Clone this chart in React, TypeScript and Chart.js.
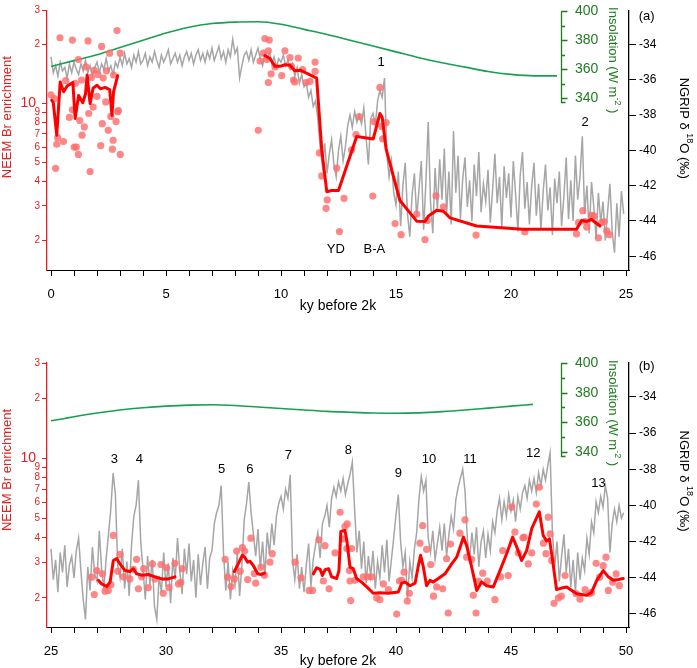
import React, { useEffect, useRef } from 'react';
import { Chart, registerables } from 'chart.js';
Chart.register(...registerables);

const FONT = "'Liberation Sans', Arial, sans-serif";

// ---------- Ticks ----------
const X_TICKS_A = [0, 1, 2, 3, 4, 5, 6, 7, 8, 9, 10, 11, 12, 13, 14, 15, 16, 17, 18, 19, 20, 21, 22, 23, 24, 25];
const X_LABELS_A = [0, 5, 10, 15, 20, 25];
const X_TICKS_B = [25, 26, 27, 28, 29, 30, 31, 32, 33, 34, 35, 36, 37, 38, 39, 40, 41, 42, 43, 44, 45, 46, 47, 48, 49, 50];
const X_LABELS_B = [25, 30, 35, 40, 45, 50];
const BR_TICKS = [2, 3, 4, 5, 6, 7, 8, 9, 10, 20, 30];
const BR_TICK_LABELS = ['2', '3', '4', '5', '6', '7', '8', '9', '10 ', '2', '3'];
const D18O_TICKS = [-46, -44, -42, -40, -38, -36, -34];
const INSOL_TICKS = [340, 360, 380, 400];
const INSOL_MINOR = [350, 370, 390];

// ---------- NGRIP d18O (per mil), 0.1 ky steps ----------
const NGRIP_STEP = 0.1;
const NGRIP_A_START = 0;
const NGRIP_A = [
  -34.7, -35.6, -35.2, -35.8, -35.0, -35.5, -35.3, -35.9, -35.1, -35.6,
  -35.0, -35.4, -35.7, -35.1, -35.5, -34.9, -35.6, -35.2, -35.8, -35.3,
  -35.0, -35.6, -35.1, -35.4, -34.8, -35.5, -35.2, -35.7, -35.0, -35.3,
  -34.7, -35.2, -34.5, -35.1, -34.8, -35.3, -34.6, -35.0, -34.4, -35.1,
  -34.9, -34.5, -35.2, -34.7, -35.0, -34.4, -34.9, -35.3, -34.6, -35.0,
  -34.7, -34.3, -35.1, -34.8, -34.5, -35.0, -34.6, -35.2, -34.7, -34.4,
  -34.9, -34.5, -35.1, -34.6, -34.3, -34.9, -34.5, -35.0, -34.4, -34.8,
  -34.2, -34.9, -34.5, -34.1, -34.8, -34.4, -35.0, -34.3, -34.7, -33.7,
  -34.5, -34.2, -35.9, -35.2, -34.6,
  -34.4, -34.9, -34.3, -35.0, -34.6, -34.2, -34.8, -35.2, -34.5, -34.9,
  -34.4, -35.1, -34.7, -35.3, -34.8, -35.0, -34.6, -35.2, -34.9, -35.4,
  -35.1, -35.8, -35.3, -36.2, -35.7, -36.4,
  -36.2, -37.0, -36.6, -37.5, -37.2, -38.2,
  -39.8, -40.9, -39.6, -41.3, -40.2, -39.4, -40.8, -41.5, -40.0, -39.2, -40.6, -39.8,
  -38.6, -38.0, -38.7, -37.8, -38.4, -38.0,
  -38.5, -37.6, -39.3, -40.8, -38.2, -37.9, -38.6,
  -37.2, -36.6, -37.0, -35.9,
  -40.2, -41.5, -40.6, -42.4,
  -43.1, -41.2, -44.3, -42.0, -40.7, -43.6, -44.9, -42.5, -41.3, -43.8,
  -42.2, -40.6, -44.5, -41.8, -38.4, -42.9, -44.7, -41.0, -43.4, -40.5,
  -42.8, -39.9, -43.6, -41.2, -44.2, -38.9, -42.4, -40.3, -43.9, -41.6,
  -40.4, -43.2, -41.7, -44.0, -40.8, -42.6, -40.1, -43.5, -41.9, -42.9,
  -41.1, -44.1, -42.2, -40.2, -43.0, -41.5, -44.4, -40.9, -42.7, -41.3,
  -43.8, -40.6, -42.5, -44.6, -41.4, -40.1, -43.3, -41.8, -44.2, -42.0,
  -40.7, -43.7, -41.9, -44.5, -42.3, -40.8, -43.4, -42.1, -44.8, -41.6,
  -43.0, -41.2, -44.3, -42.6, -40.4, -43.9, -41.7, -44.0, -40.3, -42.8,
  -41.5, -39.2, -43.6, -42.0, -44.7, -41.8, -43.2, -45.0, -42.4, -44.1,
  -42.9, -45.1, -43.5, -41.9, -44.6, -45.8, -43.0, -44.9, -42.3, -43.6,
];
const NGRIP_B_START = 25;
const NGRIP_B = [
  -42.4, -44.1, -43.0, -44.8, -42.6, -43.7, -42.2, -44.5, -43.3, -42.8,
  -44.0, -42.5, -41.8, -43.6, -45.2, -46.3, -43.4, -44.7, -42.3, -43.8,
  -44.2, -41.4, -43.5, -44.6, -42.9, -41.6, -40.2, -38.2, -39.4, -43.3,
  -44.0, -42.4, -44.6, -43.1, -45.0, -42.2, -40.6, -40.0, -38.6, -42.0,
  -43.5, -45.2, -42.8, -44.4, -43.0, -45.6, -46.3, -43.9, -44.8, -42.6,
  -44.5, -43.2, -45.4, -42.9, -44.1, -41.8, -43.6, -44.9, -42.4, -43.8,
  -42.1, -44.2, -43.0, -45.1, -42.7, -44.4, -43.2, -42.3, -44.6, -42.9,
  -42.5, -41.0, -40.4, -40.0, -38.9, -42.6, -44.7, -43.1, -45.2, -43.6,
  -44.4, -42.6, -45.0, -43.3, -40.8, -39.9, -38.7, -40.4, -41.6, -42.8,
  -41.3, -43.5, -42.0, -43.9, -41.5, -42.7, -41.0, -42.2, -40.6, -39.9,
  -39.5, -40.2, -39.1, -39.6, -38.3, -43.0, -44.1, -42.7, -44.6, -43.4,
  -44.8, -43.3, -42.1, -44.5, -43.0, -42.2, -41.5, -42.9, -41.0, -40.6,
  -40.0, -41.2, -39.6, -39.0, -39.5, -38.7, -39.2, -38.5, -39.4, -38.8,
  -38.3, -37.6, -40.2, -42.6, -41.4, -43.5, -42.0, -44.3, -42.8, -43.9,
  -42.5, -44.6, -43.1, -44.0, -42.2, -43.7, -41.9, -44.2, -43.0, -41.8,
  -40.5, -39.4, -42.0, -43.4, -42.6, -45.2, -43.1, -44.0, -42.4, -41.5,
  -39.6, -38.4, -39.2, -38.6, -41.8, -42.6, -41.4, -43.0, -42.1, -41.2,
  -42.5, -41.0, -42.8, -41.6, -40.6, -41.3, -39.7, -39.0, -38.5, -38.0,
  -39.2, -41.8, -43.0, -41.5, -42.7, -41.2, -43.4, -42.0, -41.4, -42.9,
  -41.6, -42.5, -40.9, -41.5, -40.3, -39.6, -40.8, -39.8, -40.6, -39.4,
  -40.3, -39.7, -40.9, -39.5, -40.2, -39.3, -38.9, -39.6, -38.6, -39.2,
  -38.5, -39.3, -38.2, -38.9, -38.0, -38.6, -37.8, -37.1, -41.5, -43.4,
  -42.0, -44.2, -42.8, -41.6, -43.7, -42.4, -44.5, -43.0, -44.8, -42.6,
  -44.1, -42.9, -43.6, -41.8, -42.7, -40.9, -41.5, -39.8, -40.4, -39.5,
  -40.1, -38.9, -39.6, -42.6, -41.0, -40.2, -40.9, -40.0, -40.7, -40.4,
];

// ---------- Insolation (W m-2) [ky, value] ----------
const INSOL_A = [
  [0, 362], [1, 366], [2, 370], [3, 375], [4, 380], [5, 385], [6, 389], [7, 391.5],
  [8, 392.5], [9, 392.7], [10, 391], [11, 387.5], [12, 384], [13, 380], [14, 376],
  [15, 372], [16, 368], [17, 364.5], [18, 361.5], [19, 358.5], [20, 356.5], [21, 355.5], [22, 355.5],
];
const INSOL_B = [
  [25, 361], [26, 363.8], [27, 366.3], [28, 368.3], [29, 369.8], [30, 370.9], [31, 371.6],
  [32, 371.8], [33, 371.3], [34, 370.3], [35, 369.3], [36, 368.3], [37, 367.4], [38, 366.8],
  [39, 366.3], [40, 366.1], [41, 366.4], [42, 367.2], [43, 368.3], [44, 369.6], [45, 370.9], [45.95, 372.1],
];

// ---------- NEEM Br enrichment: smoothed lines [ky, ratio] ----------
const BR_LINE_A1 = [
  [0.03, 10.4], [0.1, 10.1], [0.25, 6.9], [0.4, 12.9], [0.55, 11.5], [0.7, 12.3], [0.95, 12.8],
  [1.05, 8.4], [1.2, 11.0], [1.38, 10.1], [1.5, 11.2], [1.57, 14.0], [1.7, 10.0], [1.83, 12.0],
  [2.0, 12.4], [2.15, 11.9], [2.35, 12.1], [2.55, 11.8], [2.65, 8.7], [2.72, 11.5], [2.9, 13.9],
];
const BR_LINE_A2 = [
  [9.3, 17.6], [9.52, 17.0], [9.74, 15.5], [9.96, 15.5], [10.17, 15.8], [10.39, 15.7], [10.6, 14.7],
  [10.85, 14.8], [11.48, 13.6], [11.55, 13.5], [11.77, 5.85], [11.99, 3.55], [12.2, 3.6], [12.5, 3.6],
  [13.29, 6.8], [14.01, 6.6], [14.3, 8.9], [14.4, 8.5], [14.57, 5.85], [15.17, 3.2], [15.9, 2.51],
  [16.26, 2.5], [16.4, 2.66], [16.77, 2.85], [17.06, 2.82], [17.35, 2.61], [18.5, 2.37], [20.5, 2.28],
  [22.85, 2.28], [23.07, 2.53], [23.3, 2.5], [23.5, 2.56], [23.87, 2.37],
];
const BR_LINE_B1 = [
  [27.06, 2.45], [27.2, 2.35], [27.42, 2.28], [27.57, 2.4], [27.71, 3.08], [27.86, 3.15], [28.0, 2.96],
  [28.22, 2.74], [28.43, 2.71], [28.58, 2.8], [28.72, 2.64], [28.94, 2.6], [29.23, 2.62], [29.52, 2.55],
  [29.81, 2.49], [30.1, 2.49], [30.39, 2.55],
];
const BR_LINE_B2 = [
  [32.97, 2.71], [33.14, 2.96], [33.32, 3.27], [33.42, 3.2], [33.55, 3.02], [33.65, 3.05], [33.8, 2.9],
  [33.99, 2.64], [34.13, 2.62], [34.28, 2.66],
];
const BR_LINE_B3 = [
  [36.41, 2.64], [36.55, 2.83], [36.7, 2.78], [36.8, 2.59], [36.92, 2.77], [37.07, 2.8], [37.2, 2.55],
  [37.42, 2.5], [37.52, 2.74], [37.6, 4.3], [37.78, 4.35], [37.86, 3.9], [38.0, 2.85], [38.14, 2.8],
  [38.29, 2.5], [38.5, 2.4], [38.73, 2.27], [39.01, 2.11], [39.3, 2.12], [39.67, 2.11], [40.1, 2.14],
  [40.25, 2.37], [40.4, 2.4], [40.61, 2.3], [40.83, 2.37], [40.97, 2.9], [41.07, 3.27], [41.19, 2.85],
  [41.33, 2.3], [41.48, 2.45], [41.62, 2.4], [41.84, 2.5], [42.13, 2.64], [42.42, 2.96], [42.64, 3.2],
  [42.81, 3.65], [42.93, 4.03], [43.07, 3.65], [43.29, 2.85], [43.51, 2.18], [43.72, 2.4], [43.94, 2.3],
  [44.23, 2.27], [44.52, 2.74], [44.81, 3.33], [45.07, 4.03], [45.25, 3.6], [45.46, 3.08], [45.68, 3.45],
  [45.9, 4.44], [46.23, 5.4], [46.4, 4.11], [46.55, 3.85], [46.67, 3.95], [46.81, 3.08], [46.98, 2.2],
  [47.2, 2.24], [47.42, 2.27], [47.85, 2.1], [48.29, 2.06], [48.5, 2.13], [48.73, 2.45], [49.01, 2.74],
  [49.23, 2.55], [49.45, 2.45], [49.66, 2.47], [49.88, 2.5],
];

// ---------- NEEM Br enrichment: samples [ky, ratio] ----------
const BR_POINTS_A = [
  [0.0, 11.1], [0.14, 10.6], [0.2, 4.67], [0.25, 6.2], [0.29, 6.7], [0.39, 21.7], [0.54, 6.4], [0.64, 13.1],
  [0.8, 8.5], [0.93, 21.1], [0.93, 9.3], [1.01, 6.0], [1.06, 12.7], [1.1, 6.0], [1.19, 5.5], [1.19, 16.8],
  [1.25, 8.2], [1.33, 13.2], [1.35, 6.9], [1.45, 7.6], [1.52, 15.4], [1.61, 20.9], [1.64, 8.9], [1.7, 4.5],
  [1.76, 13.6], [1.83, 9.6], [1.88, 14.8], [2.0, 10.9], [2.04, 14.1], [2.16, 6.1], [2.2, 19.6], [2.23, 7.9],
  [2.27, 13.5], [2.38, 10.2], [2.41, 14.7], [2.49, 7.3], [2.55, 18.1], [2.6, 8.6], [2.67, 5.85], [2.7, 6.5],
  [2.72, 14.0], [2.83, 8.1], [2.87, 23.6], [2.9, 9.1], [2.93, 9.2], [3.01, 18.1], [3.01, 5.5],
  [9.01, 7.3], [9.09, 16.5], [9.23, 18.1], [9.3, 21.5], [9.38, 16.8], [9.45, 18.6], [9.49, 21.1], [9.45, 12.8],
  [9.57, 14.2], [9.74, 15.4], [10.03, 13.9], [10.17, 18.6], [10.39, 17.2], [10.46, 15.5], [10.54, 13.2],
  [10.6, 12.9], [10.75, 17.1], [10.94, 14.9], [11.09, 12.8], [11.26, 13.0], [11.48, 16.3], [11.48, 14.6],
  [11.67, 5.6], [11.77, 4.27], [11.96, 2.92], [12.01, 3.22], [12.42, 4.69], [12.54, 2.22], [12.74, 3.28],
  [13.07, 5.8], [13.26, 6.94], [13.4, 8.58], [13.99, 3.37], [14.04, 8.1], [14.3, 12.1], [14.38, 7.65],
  [14.42, 6.6], [14.57, 8.0], [14.96, 2.44], [15.22, 2.14], [15.9, 2.73], [16.26, 2.02], [16.36, 2.53],
  [16.74, 3.38], [17.06, 2.97], [18.48, 2.13], [20.6, 2.21], [22.85, 2.16], [22.93, 2.47], [23.12, 2.84],
  [23.22, 2.5], [23.29, 2.34], [23.5, 2.69], [23.6, 2.67], [23.8, 2.06], [23.94, 2.47], [24.05, 2.5],
  [24.16, 2.24], [24.27, 2.14],
];
const BR_POINTS_B = [
  [26.77, 2.54], [26.88, 2.08], [26.99, 2.74], [27.23, 2.64], [27.35, 2.16], [27.49, 2.18], [27.6, 2.33],
  [27.71, 4.11], [27.9, 2.72], [28.0, 3.3], [28.15, 2.55], [28.43, 2.49], [28.58, 2.78], [28.72, 3.12],
  [28.8, 2.22], [28.94, 2.55], [29.03, 2.8], [29.23, 2.25], [29.41, 2.96], [29.52, 2.49], [29.78, 2.94],
  [29.88, 2.11], [30.03, 2.83], [30.13, 2.25], [30.39, 2.98], [30.54, 2.35], [30.64, 2.39], [30.71, 2.8],
  [32.57, 3.12], [32.68, 2.54], [32.83, 2.28], [32.97, 2.49], [33.07, 3.43], [33.23, 2.72], [33.32, 3.57],
  [33.42, 3.43], [33.55, 2.47], [33.69, 3.98], [33.84, 2.65], [33.9, 2.37], [34.13, 2.85], [34.28, 2.6],
  [34.52, 3.02], [34.62, 3.33],
  [35.61, 3.02], [35.87, 2.52], [36.22, 2.18], [36.37, 2.18], [36.65, 3.91], [36.84, 2.43], [36.91, 3.65],
  [37.09, 2.22], [37.35, 3.36], [37.57, 5.37], [37.71, 3.95], [37.78, 4.55], [37.88, 4.69], [37.86, 3.53],
  [38.07, 3.53], [38.0, 2.43], [38.03, 1.94], [37.97, 2.74], [38.22, 2.45], [38.58, 2.55], [38.77, 2.55],
  [38.94, 2.55], [39.16, 2.0], [39.3, 1.96], [39.45, 2.35], [39.67, 2.2], [40.03, 1.66], [40.15, 2.43],
  [40.25, 2.45], [40.35, 2.69], [40.49, 1.93], [40.58, 2.11], [41.04, 3.76], [41.16, 4.6], [41.33, 3.5],
  [41.51, 2.94], [41.63, 2.04], [41.77, 2.27], [42.03, 2.22], [42.2, 3.14], [42.27, 1.68], [42.37, 3.72],
  [42.78, 4.22], [43.0, 4.92], [43.07, 3.2], [43.29, 3.12], [43.36, 2.06], [43.48, 1.68], [43.58, 2.43],
  [43.77, 2.66], [43.97, 2.43], [44.3, 1.96], [44.55, 2.55], [44.64, 3.45], [44.88, 2.59], [45.03, 5.7],
  [45.17, 4.27], [45.32, 3.36], [45.52, 4.0], [45.57, 4.03], [45.75, 2.96], [45.9, 3.36], [46.1, 5.9],
  [46.23, 7.16], [46.41, 3.76], [46.52, 3.33], [46.62, 5.07], [46.7, 4.18], [46.77, 3.08], [46.87, 1.88],
  [47.06, 2.0], [47.19, 2.04], [47.35, 2.59], [47.83, 2.1], [48.0, 1.97], [48.22, 2.2], [48.41, 2.1],
  [48.5, 2.13], [48.7, 2.98], [48.85, 2.54], [49.01, 2.9], [49.13, 3.2], [49.23, 2.18], [49.42, 2.4],
  [49.57, 2.64], [49.71, 2.31],
];

// ---------- Annotations [text, ky, d18O] ----------
const ANNOT_A = [
  ['1', 14.35, -35.0], ['2', 23.22, -38.44], ['YD', 12.38, -45.63], ['B-A', 14.06, -45.63], ['(a)', 25.9, -32.43],
];
const ANNOT_B = [
  ['3', 27.75, -37.48], ['4', 28.84, -37.48], ['5', 32.42, -38.0], ['6', 33.65, -38.0], ['7', 35.32, -37.25],
  ['8', 37.93, -36.93], ['9', 40.1, -38.22], ['10', 41.43, -37.45], ['11', 43.22, -37.45], ['12', 45.97, -37.11],
  ['13', 48.8, -38.77], ['(b)', 50.9, -32.32],
];

const RED_AXIS = '#e3201f';
const GREEN_AXIS = '#1f7d1f';
const GREEN_LINE = '#17a050';

const PANEL_A = {
  height: 318, padTop: 5, xAxisHeight: 48, xTitlePadBottom: 3.5,
  xMin: -0.174, xMax: 25.13, xTicks: X_TICKS_A, xLabels: X_LABELS_A,
  brMin: 1.413, brMax: 30, dMin: -46.78, dMax: -32.056, iMin: 221.98, iMax: 400.67,
  ngripStart: NGRIP_A_START, ngrip: NGRIP_A, insol: INSOL_A,
  brLines: [BR_LINE_A1, BR_LINE_A2], brPoints: BR_POINTS_A, annot: ANNOT_A,
};
const PANEL_B = {
  height: 338, padTop: 33, xAxisHeight: 41, xTitlePadBottom: -1.5,
  xMin: 24.826, xMax: 50.13, xTicks: X_TICKS_B, xLabels: X_LABELS_B,
  brMin: 1.43, brMax: 30, dMin: -46.72, dMax: -32.12, iMin: 221.98, iMax: 400,
  ngripStart: NGRIP_B_START, ngrip: NGRIP_B, insol: INSOL_B,
  brLines: [BR_LINE_B1, BR_LINE_B2, BR_LINE_B3], brPoints: BR_POINTS_B, annot: ANNOT_B,
};

const BR_TITLE = [{ text: 'NEEM Br enrichment', size: 13 }];
const D18O_TITLE = [{ text: 'NGRIP δ ', size: 13 }, { text: '18', size: 9, sup: true }, { text: 'O (‰)', size: 13 }];
const INSOL_TITLE = [{ text: 'Insolation (W m', size: 13 }, { text: '-2', size: 9, sup: true }, { text: ' )', size: 13 }];

function drawRotated(ctx: any, parts: any[], cx: number, cy: number, angle: number, color: string) {
  ctx.save();
  ctx.translate(cx, cy);
  ctx.rotate(angle);
  ctx.fillStyle = color;
  ctx.textBaseline = 'middle';
  ctx.textAlign = 'left';
  let total = 0;
  const widths = parts.map((p) => {
    ctx.font = `${p.size}px ${FONT}`;
    const w = ctx.measureText(p.text).width;
    total += w;
    return w;
  });
  let x = -total / 2;
  parts.forEach((p, i) => {
    ctx.font = `${p.size}px ${FONT}`;
    ctx.fillText(p.text, x, p.sup ? -p.size * 0.6 : 0);
    x += widths[i];
  });
  ctx.restore();
}

const toXY = (pairs: number[][]) => pairs.map(([x, y]) => ({ x, y }));

function makeChart(canvas: HTMLCanvasElement, P: any) {
  const extras = {
    id: 'extras',
    afterDraw(chart: any) {
      const ctx = chart.ctx;
      const { x, yd, yi } = chart.scales;
      const top = chart.chartArea.top;
      // Insolation axis (short green axis inside the plot)
      const gx = 561.5;
      const yTop = yi.getPixelForValue(400);
      const yBot = yi.getPixelForValue(336.6);
      ctx.save();
      ctx.strokeStyle = GREEN_AXIS;
      ctx.lineWidth = 1.3;
      ctx.beginPath();
      ctx.moveTo(gx, yTop);
      ctx.lineTo(gx, yBot);
      INSOL_TICKS.forEach((v) => {
        const py = Math.round(yi.getPixelForValue(v)) + 0.5;
        ctx.moveTo(gx, py);
        ctx.lineTo(gx + 6, py);
      });
      INSOL_MINOR.forEach((v) => {
        const py = Math.round(yi.getPixelForValue(v)) + 0.5;
        ctx.moveTo(gx, py);
        ctx.lineTo(gx + 3.5, py);
      });
      ctx.moveTo(gx, Math.round(yBot) - 0.5);
      ctx.lineTo(gx + 4, Math.round(yBot) - 0.5);
      ctx.stroke();
      ctx.fillStyle = GREEN_AXIS;
      ctx.font = `14px ${FONT}`;
      ctx.textAlign = 'left';
      ctx.textBaseline = 'middle';
      INSOL_TICKS.forEach((v) => ctx.fillText(String(v), gx + 13.5, yi.getPixelForValue(v)));
      ctx.restore();
      // Axis titles
      drawRotated(ctx, BR_TITLE, 7, top + 107, -Math.PI / 2, RED_AXIS);
      drawRotated(ctx, D18O_TITLE, 684, top + 118, Math.PI / 2, '#000');
      drawRotated(ctx, INSOL_TITLE, 612.5, top + 50, Math.PI / 2, GREEN_AXIS);
      // Annotations
      ctx.save();
      ctx.fillStyle = '#000';
      ctx.font = `13px ${FONT}`;
      ctx.textAlign = 'center';
      ctx.textBaseline = 'middle';
      P.annot.forEach(([t, ax, ay]: any) => ctx.fillText(t, x.getPixelForValue(ax), yd.getPixelForValue(ay)));
      ctx.restore();
    },
  };

  const lineSets = P.brLines.map((seg: number[][], i: number) => ({
    label: `Br smooth ${i}`,
    data: toXY(seg),
    yAxisID: 'yr',
    borderColor: '#ff0000',
    borderWidth: 3,
    borderJoinStyle: 'round',
    borderCapStyle: 'round',
    pointRadius: 0,
    order: 0,
  }));

  return new Chart(canvas, {
    type: 'line',
    data: {
      datasets: [
        ...lineSets,
        {
          label: 'Br samples',
          data: toXY(P.brPoints),
          yAxisID: 'yr',
          showLine: false,
          pointRadius: 3.6,
          pointBackgroundColor: 'rgba(255,108,108,0.82)',
          pointBorderWidth: 0,
          pointBorderColor: 'rgba(0,0,0,0)',
          order: 5,
        },
        {
          label: 'Insolation',
          data: toXY(P.insol),
          yAxisID: 'yi',
          borderColor: GREEN_LINE,
          borderWidth: 1.6,
          pointRadius: 0,
          cubicInterpolationMode: 'monotone',
          order: 6,
        },
        {
          label: 'NGRIP',
          data: P.ngrip.map((v: number, i: number) => ({ x: +(P.ngripStart + i * NGRIP_STEP).toFixed(2), y: v })),
          yAxisID: 'yd',
          borderColor: '#a6a6a6',
          borderWidth: 1.5,
          borderJoinStyle: 'miter',
          pointRadius: 0,
          order: 7,
        },
      ],
    },
    options: {
      animation: false,
      responsive: false,
      devicePixelRatio: 1,
      events: [],
      layout: { padding: { top: P.padTop, left: 0, right: 0, bottom: 0 } },
      plugins: { legend: { display: false }, tooltip: { enabled: false } },
      scales: {
        x: {
          type: 'linear',
          position: 'bottom',
          min: P.xMin,
          max: P.xMax,
          afterBuildTicks: (s: any) => { s.ticks = P.xTicks.map((v: number) => ({ value: v })); },
          afterFit: (s: any) => { s.height = P.xAxisHeight; },
          ticks: {
            autoSkip: false,
            maxRotation: 0,
            padding: 10.5,
            color: '#000',
            font: { family: FONT, size: 13 },
            callback: (v: any) => (P.xLabels.includes(v) ? String(v) : ''),
          },
          grid: { drawOnChartArea: false, drawTicks: true, tickLength: 6, color: '#000', lineWidth: 1 },
          border: { display: true, color: '#000', width: 1 },
          title: {
            display: true,
            text: 'ky before 2k',
            color: '#000',
            font: { family: FONT, size: 14 },
            padding: { top: 0, bottom: P.xTitlePadBottom },
          },
        },
        yr: {
          type: 'logarithmic',
          position: 'left',
          min: P.brMin,
          max: P.brMax,
          afterBuildTicks: (s: any) => { s.ticks = BR_TICKS.map((v) => ({ value: v })); },
          afterFit: (s: any) => { s.width = 47; },
          ticks: {
            autoSkip: false,
            padding: 2,
            color: RED_AXIS,
            font: (c: any) => ({ family: FONT, size: c.tick && c.tick.value === 10 ? 14 : 10 }),
            callback: (v: any) => {
              const i = BR_TICKS.indexOf(v);
              return i >= 0 ? BR_TICK_LABELS[i] : '';
            },
          },
          grid: { drawOnChartArea: false, drawTicks: true, tickLength: 5, color: RED_AXIS },
          border: { display: true, color: RED_AXIS, width: 1.3 },
        },
        yd: {
          type: 'linear',
          position: 'right',
          min: P.dMin,
          max: P.dMax,
          afterBuildTicks: (s: any) => { s.ticks = D18O_TICKS.map((v) => ({ value: v })); },
          afterFit: (s: any) => { s.width = 68; },
          ticks: {
            autoSkip: false,
            padding: 3,
            color: '#000',
            font: { family: FONT, size: 12 },
            callback: (v: any) => String(v),
          },
          grid: { drawOnChartArea: false, drawTicks: true, tickLength: 7, color: '#000' },
          border: { display: true, color: '#000', width: 1.3 },
        },
        yi: {
          type: 'linear',
          position: 'right',
          display: false,
          min: P.iMin,
          max: P.iMax,
        },
      },
    } as any,
    plugins: [extras],
  } as any);
}

export default function App() {
  const refA = useRef<HTMLCanvasElement>(null);
  const refB = useRef<HTMLCanvasElement>(null);
  useEffect(() => {
    const a = makeChart(refA.current as HTMLCanvasElement, PANEL_A);
    const b = makeChart(refB.current as HTMLCanvasElement, PANEL_B);
    return () => {
      a.destroy();
      b.destroy();
    };
  }, []);
  return (
    <div style={{ position: 'absolute', left: 0, top: 0, width: 697, height: 668, background: '#fff', overflow: 'hidden' }}>
      <canvas ref={refA} width={697} height={PANEL_A.height} style={{ position: 'absolute', left: 0, top: 0, width: 697, height: PANEL_A.height }} />
      <canvas ref={refB} width={697} height={PANEL_B.height} style={{ position: 'absolute', left: 0, top: 330, width: 697, height: PANEL_B.height }} />
    </div>
  );
}
